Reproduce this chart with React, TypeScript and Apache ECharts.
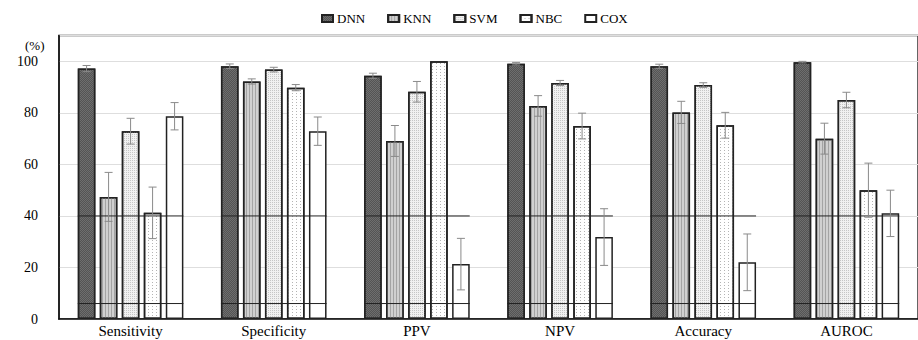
import React, { useEffect, useRef } from "react";
import * as echarts from "echarts";

const categories = ["Sensitivity", "Specificity", "PPV", "NPV", "Accuracy", "AUROC"];
const seriesNames = ["DNN", "KNN", "SVM", "NBC", "COX"];

const dnnValues = [97.2, 98.1, 94.4, 99.1, 98.1, 99.7];
const dnnErrors = [1.2, 0.9, 1.0, 0.5, 0.8, 0.3];
const knnValues = [47.4, 92.2, 69.1, 82.7, 80.2, 70.0];
const knnErrors = [9.5, 1.0, 6.0, 4.0, 4.3, 6.0];
const svmValues = [72.9, 96.8, 88.2, 91.6, 90.8, 85.0];
const svmErrors = [5.0, 0.9, 4.0, 1.0, 0.9, 3.0];
const nbcValues = [41.2, 89.8, 100.0, 74.9, 75.2, 50.0];
const nbcErrors = [10.0, 1.2, 0.0, 5.0, 5.0, 10.5];
const coxValues = [78.7, 72.9, 21.3, 31.8, 22.0, 41.0];
const coxErrors = [5.3, 5.5, 10.0, 11.0, 11.0, 9.0];

const overlayLevels = [40, 6];

const yTicks = { min: 0, max: 110, interval: 20 };

const allValues = [dnnValues, knnValues, svmValues, nbcValues, coxValues];
const allErrors = [dnnErrors, knnErrors, svmErrors, nbcErrors, coxErrors];

const FONT = "Liberation Serif";
const BAR_W = 17.6;
const BAR_GAP = 4.4;

const styles = [
  {
    color: "#6e6e6e",
    decal: { symbol: "rect", symbolSize: 1, dashArrayX: [[1, 1], [0, 1, 1, 0]], dashArrayY: [1, 0], color: "#545454" },
  },
  {
    color: "#d0d0d0",
    decal: { symbol: "rect", symbolSize: 1, dashArrayX: [1, 2], dashArrayY: [2, 0], color: "#a4a4a4" },
  },
  {
    color: "#f1f1f1",
    decal: { symbol: "rect", symbolSize: 1, dashArrayX: [1, 1], dashArrayY: [1, 1], color: "#c6c6c6" },
  },
  {
    color: "#ffffff",
    decal: { symbol: "rect", symbolSize: 1, dashArrayX: [1, 3], dashArrayY: [1, 2], color: "#b4b4b4" },
  },
  { color: "#ffffff" },
];

export default function App() {
  const ref = useRef<HTMLDivElement>(null);

  useEffect(() => {
    document.body.style.margin = "0";
    if (!ref.current) return;
    const chart = echarts.init(ref.current, undefined, { renderer: "svg" });

    const barSeries = seriesNames.map((name, i) => ({
      name,
      type: "bar",
      data: allValues[i],
      barWidth: BAR_W,
      barGap: ((BAR_GAP / BAR_W) * 100).toFixed(1) + "%",
      itemStyle: {
        color: styles[i].color,
        decal: styles[i].decal,
        borderColor: "#222",
        borderWidth: 1.5,
      },
      z: 2,
    }));

    const errorSeries = seriesNames.map((name, i) => ({
      type: "custom",
      name: name + "-err",
      z: 5,
      silent: true,
      data: allValues[i].map((v, k) => [k, v - allErrors[i][k], v + allErrors[i][k]]),
      renderItem: (params: any, api: any) => {
        const idx = api.value(0);
        const lo = api.coord([idx, api.value(1)]);
        const hi = api.coord([idx, api.value(2)]);
        const offset = (i - 2) * (BAR_W + BAR_GAP);
        const x = lo[0] + offset;
        const cap = 4;
        const st = { stroke: "#8a8a8a", lineWidth: 1 };
        if (api.value(2) - api.value(1) <= 0) return { type: "group", children: [] };
        return {
          type: "group",
          children: [
            { type: "line", shape: { x1: x, y1: lo[1], x2: x, y2: hi[1] }, style: st },
            { type: "line", shape: { x1: x - cap, y1: lo[1], x2: x + cap, y2: lo[1] }, style: st },
            { type: "line", shape: { x1: x - cap, y1: hi[1], x2: x + cap, y2: hi[1] }, style: st },
          ],
        };
      },
    }));

    const overlaySeries = {
      type: "custom",
      name: "overlay",
      z: 4,
      silent: true,
      data: overlayLevels.flatMap((lv) => categories.map((_, k) => [k, lv])),
      renderItem: (params: any, api: any) => {
        const p = api.coord([api.value(0), api.value(1)]);
        const half = (5 * BAR_W + 4 * BAR_GAP) / 2;
        return {
          type: "line",
          shape: { x1: p[0] - half, y1: p[1], x2: p[0] + half, y2: p[1] },
          style: { stroke: "#222", lineWidth: 1 },
        };
      },
    };

    chart.setOption({
      animation: false,
      textStyle: { fontFamily: FONT, color: "#000" },
      legend: {
        data: seriesNames,
        top: 7,
        left: 316,
        itemWidth: 11,
        itemHeight: 7,
        itemGap: 22,
        textStyle: { fontFamily: FONT, fontSize: 13, color: "#000", padding: [0, 0, 0, -1] },
        icon: "rect",
      },
      grid: {
        left: 59,
        right: -6,
        top: 35.6,
        bottom: 21,
        show: true,
        borderColor: "#333",
        borderWidth: 1.5,
        backgroundColor: "transparent",
      },
      graphic: [
        {
          type: "text",
          left: 25,
          top: 39,
          style: { text: "(%)", font: `13px "${FONT}"`, fill: "#000" },
        },
      ],
      xAxis: {
        type: "category",
        data: categories,
        axisLine: { lineStyle: { color: "#111", width: 1.5 } },
        axisTick: { show: false },
        axisLabel: { fontFamily: FONT, fontSize: 15, color: "#000", margin: 4, lineHeight: 15 },
        splitLine: { show: false },
      },
      yAxis: {
        type: "value",
        min: yTicks.min,
        max: yTicks.max,
        interval: yTicks.interval,
        axisLine: { show: true, lineStyle: { color: "#111", width: 1.5 } },
        axisTick: { show: false },
        axisLabel: {
          fontFamily: FONT,
          fontSize: 14,
          color: "#000",
          margin: 21,
          showMaxLabel: false,
          formatter: (v: number) => (v > 100 ? "" : String(v)),
        },
        splitLine: { show: true, lineStyle: { color: "#dedede", width: 1 } },
      },
      series: [...barSeries, ...errorSeries, overlaySeries],
    });

    return () => chart.dispose();
  }, []);

  return <div ref={ref} style={{ width: 918, height: 340 }} />;
}
